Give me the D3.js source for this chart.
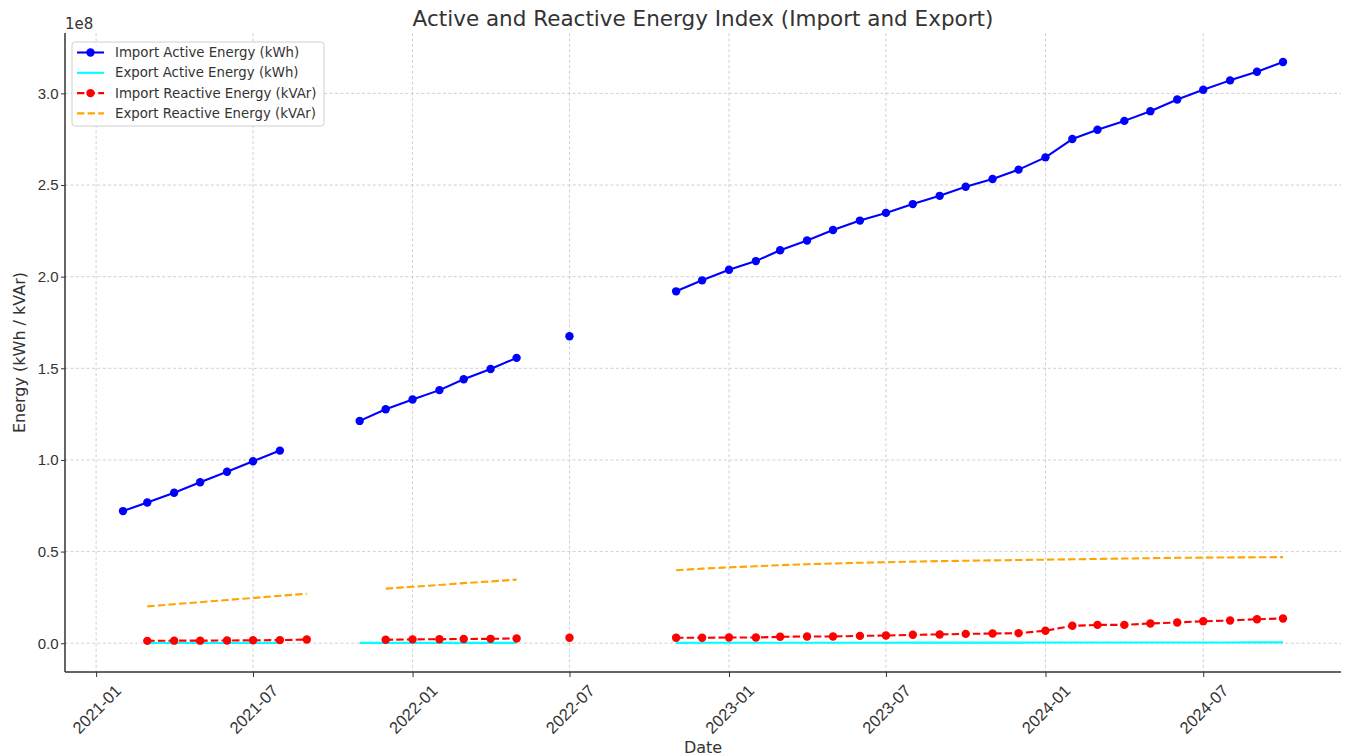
<!DOCTYPE html>
<html>
<head>
<meta charset="utf-8">
<script src="https://cdn.jsdelivr.net/npm/d3@7"></script>
<style>
  html, body { margin: 0; padding: 0; background: #fff; }
  svg { display: block; font-family: "DejaVu Sans", sans-serif; }
</style>
</head>
<body>
<svg id="chart" width="1348" height="756"></svg>
<script>
// Monthly meter readings, first of each month (null = no reading)
const months = [
  "2021-02","2021-03","2021-04","2021-05","2021-06","2021-07","2021-08","2021-09","2021-10","2021-11","2021-12",
  "2022-01","2022-02","2022-03","2022-04","2022-05","2022-06","2022-07","2022-08","2022-09","2022-10","2022-11","2022-12",
  "2023-01","2023-02","2023-03","2023-04","2023-05","2023-06","2023-07","2023-08","2023-09","2023-10","2023-11","2023-12",
  "2024-01","2024-02","2024-03","2024-04","2024-05","2024-06","2024-07","2024-08","2024-09","2024-10"
];

// Import Active Energy (kWh)
const importActive = [
  72100000, 76800000, 82100000, 87800000, 93600000, 99300000, 105100000, null, null, 121300000, 127700000,
  133000000, 138100000, 144000000, 149600000, 155700000, null, 167500000, null, null, null, 192000000, 198000000,
  203800000, 208500000, 214400000, 219700000, 225500000, 230600000, 234800000, 239600000, 244100000, 249100000, 253300000, 258400000,
  265100000, 275100000, 280200000, 285000000, 290300000, 296700000, 302000000, 307100000, 311800000, 317100000
];

// Export Active Energy (kWh)
const exportActive = [
  null, 150000, 150000, 160000, 160000, 170000, 170000, null, null, 180000, 180000,
  190000, 190000, 200000, 200000, 210000, null, null, null, null, null, 220000, 230000,
  240000, 250000, 260000, 270000, 280000, 290000, 300000, 310000, 320000, 330000, 340000, 350000,
  360000, 370000, 380000, 390000, 400000, 410000, 420000, 430000, 440000, 450000
];

// Import Reactive Energy (kVAr)
const importReactive = [
  null, 1300000, 1400000, 1400000, 1500000, 1600000, 1700000, 2000000, null, null, 1900000,
  2100000, 2200000, 2300000, 2400000, 2600000, null, 3000000, null, null, null, 3000000, 3000000,
  3100000, 3100000, 3500000, 3700000, 3700000, 4000000, 4200000, 4600000, 4800000, 5100000, 5300000, 5500000,
  6800000, 9500000, 10000000, 10000000, 10800000, 11300000, 12000000, 12400000, 13100000, 13500000
];

// Export Reactive Energy (kVAr)
const exportReactive = [
  null, 20100000, 21300000, 22400000, 23600000, 24700000, 25900000, 27000000, null, null, 29800000,
  30800000, 31800000, 32800000, 33700000, 34700000, null, null, null, null, null, 39800000, 40700000,
  41400000, 42000000, 42600000, 43100000, 43500000, 43900000, 44200000, 44500000, 44800000, 45000000, 45200000, 45400000,
  45600000, 45800000, 46000000, 46200000, 46400000, 46600000, 46700000, 46800000, 46900000, 47000000
];

const xTickLabels = ["2021-01","2021-07","2022-01","2022-07","2023-01","2023-07","2024-01","2024-07"];
const yTickLabels = ["0.0","0.5","1.0","1.5","2.0","2.5","3.0"];

const seriesNames = [
  "Import Active Energy (kWh)",
  "Export Active Energy (kWh)",
  "Import Reactive Energy (kVAr)",
  "Export Reactive Energy (kVAr)"
];

const parseMonth = d3.timeParse("%Y-%m");
const dates = months.map(parseMonth);

const series = [
  { name: seriesNames[0], values: importActive,   color: "#0000ff", dash: null,      markers: true  },
  { name: seriesNames[1], values: exportActive,   color: "#00ffff", dash: null,      markers: false },
  { name: seriesNames[2], values: importReactive, color: "#ff0000", dash: "7.4,3.2", markers: true  },
  { name: seriesNames[3], values: exportReactive, color: "#ffa500", dash: "7.4,3.2", markers: false }
];

const svg = d3.select("#chart");
const plot = { left: 65, right: 1341, top: 33, bottom: 672 };
const textColor = "#333333";

// Domains padded by 5% on each side
const t0 = d3.min(dates), t1 = d3.max(dates);
const tPad = (t1 - t0) * 0.05;
const x = d3.scaleTime()
  .domain([new Date(+t0 - tPad), new Date(+t1 + tPad)])
  .range([plot.left, plot.right]);

const allVals = series.flatMap(s => s.values.filter(v => v != null));
const vMin = d3.min(allVals), vMax = d3.max(allVals);
const vPad = (vMax - vMin) * 0.05;
const y = d3.scaleLinear()
  .domain([vMin - vPad, vMax + vPad])
  .range([plot.bottom, plot.top]);

const xTicks = xTickLabels.map(parseMonth);
const yTicks = yTickLabels.map(v => +v * 1e8);

// Grid
const grid = svg.append("g").attr("class", "grid");
grid.selectAll("line.vx").data(xTicks).join("line")
  .attr("x1", d => x(d)).attr("x2", d => x(d))
  .attr("y1", plot.top).attr("y2", plot.bottom)
  .attr("stroke", "#b8b8b8").attr("stroke-width", 0.8)
  .attr("stroke-dasharray", "3,2.4").attr("opacity", 0.8);
grid.selectAll("line.hy").data(yTicks).join("line")
  .attr("x1", plot.left).attr("x2", plot.right)
  .attr("y1", d => y(d)).attr("y2", d => y(d))
  .attr("stroke", "#b8b8b8").attr("stroke-width", 0.8)
  .attr("stroke-dasharray", "3,2.4").attr("opacity", 0.8);

// Axes
const xAxis = d3.axisBottom(x).tickValues(xTicks).tickFormat(d3.timeFormat("%Y-%m"))
  .tickSizeOuter(0).tickSizeInner(5).tickPadding(3);
const yAxis = d3.axisLeft(y).tickValues(yTicks).tickFormat(d => (d / 1e8).toFixed(1))
  .tickSizeOuter(0).tickSizeInner(4).tickPadding(2.5);

const gx = svg.append("g").attr("transform", `translate(0,${plot.bottom})`).call(xAxis);
gx.select(".domain").attr("d", `M${plot.left},0H${plot.right}`).attr("stroke", textColor).attr("stroke-width", 1.5);
gx.selectAll(".tick line").attr("stroke", textColor).attr("stroke-width", 1);
gx.selectAll(".tick text")
  .attr("fill", textColor).attr("font-size", 16.5)
  .attr("text-anchor", "middle").attr("dominant-baseline", "central")
  .attr("y", 0).attr("dy", 0)
  .attr("transform", "translate(0,37) rotate(-45)");

const gy = svg.append("g").attr("transform", `translate(${plot.left},0)`).call(yAxis);
gy.select(".domain").attr("d", `M0,${plot.top}V${plot.bottom}`).attr("stroke", textColor).attr("stroke-width", 1.5);
gy.selectAll(".tick line").attr("stroke", textColor).attr("stroke-width", 1);
gy.selectAll(".tick text").attr("fill", textColor).attr("font-size", 15);

// Offset label for the y axis
svg.append("text").attr("x", plot.left).attr("y", 29)
  .attr("fill", textColor).attr("font-size", 15).text("1e8");

// Series
const line = d3.line()
  .defined(d => d.v != null)
  .x(d => x(d.t)).y(d => y(d.v));

series.forEach(s => {
  const pts = s.values.map((v, i) => ({ t: dates[i], v }));
  svg.append("path")
    .datum(pts)
    .attr("d", line)
    .attr("fill", "none")
    .attr("stroke", s.color)
    .attr("stroke-width", 2.1)
    .attr("stroke-linejoin", "round")
    .attr("stroke-dasharray", s.dash);
  if (s.markers) {
    svg.append("g").selectAll("circle")
      .data(pts.filter(p => p.v != null))
      .join("circle")
      .attr("cx", p => x(p.t)).attr("cy", p => y(p.v))
      .attr("r", 4.2).attr("fill", s.color);
  }
});

// Title and axis labels
svg.append("text").attr("x", (plot.left + plot.right) / 2).attr("y", 26)
  .attr("text-anchor", "middle").attr("fill", textColor).attr("font-size", 21.5)
  .text("Active and Reactive Energy Index (Import and Export)");
svg.append("text").attr("x", (plot.left + plot.right) / 2).attr("y", 753)
  .attr("text-anchor", "middle").attr("fill", textColor).attr("font-size", 16)
  .text("Date");
svg.append("text")
  .attr("transform", `translate(25,${(plot.top + plot.bottom) / 2}) rotate(-90)`)
  .attr("text-anchor", "middle").attr("fill", textColor).attr("font-size", 16)
  .text("Energy (kWh / kVAr)");

// Legend
const legend = svg.append("g").attr("transform", "translate(72,42)");
legend.append("rect")
  .attr("width", 252).attr("height", 84).attr("rx", 3)
  .attr("fill", "#ffffff").attr("fill-opacity", 0.8)
  .attr("stroke", "#d0d0d0").attr("stroke-width", 1);
series.forEach((s, i) => {
  const cy = 10.5 + i * 20.3;
  legend.append("line")
    .attr("x1", 5).attr("x2", 32).attr("y1", cy).attr("y2", cy)
    .attr("stroke", s.color).attr("stroke-width", 2.1)
    .attr("stroke-dasharray", s.dash);
  if (s.markers) {
    legend.append("circle").attr("cx", 18.5).attr("cy", cy).attr("r", 4.2).attr("fill", s.color);
  }
  legend.append("text").attr("x", 43).attr("y", cy).attr("dy", "0.35em")
    .attr("fill", textColor).attr("font-size", 13.3).text(s.name);
});
</script>
</body>
</html>
